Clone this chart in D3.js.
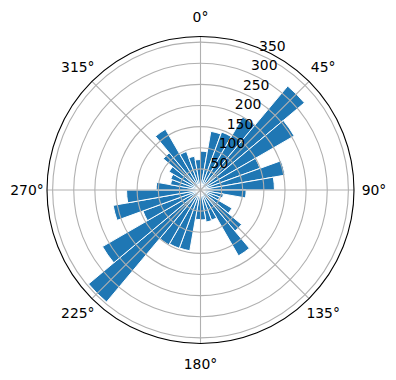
<!DOCTYPE html>
<html>
<head>
<meta charset="utf-8">
<script src="https://cdn.jsdelivr.net/npm/d3@7"></script>
<style>
  body { margin: 0; background: #fff; }
  text { font-family: "DejaVu Sans", sans-serif; font-size: 13.9px; fill: #000; }
</style>
</head>
<body>
<div id="chart"></div>
<script>
// polar bar chart (wind rose style)

// data
var directions = [5, 15, 25, 35, 45, 55, 65, 75, 85, 95, 105, 115,
                  125, 135, 145, 155, 165, 175, 185, 195, 205, 215, 225, 235,
                  245, 255, 265, 275, 285, 295, 305, 315, 325, 335, 345, 355];
var counts = [92, 141, 146, 200, 321, 256, 150, 203, 175, 108, 55, 48,
              86, 127, 180, 76, 77, 71, 70, 146, 147, 150, 346, 268,
              145, 210, 175, 105, 72, 75, 86, 115, 166, 97, 81, 72];
var binWidth = 10;
var angleTicks = [0, 45, 90, 135, 180, 225, 270, 315];
var radialTicks = [50, 100, 150, 200, 250, 300, 350];

// layout
var w = 396;
var h = 380;
var cx = 200.5;
var cy = 190;
var R = 153.5;
var color = '#1f77b4';
var gridColor = '#b0b0b0';

var theta = d3.scaleLinear().domain([0, 360]).range([0, 2 * Math.PI]);
var r = d3.scaleLinear().domain([0, d3.max(counts) * 1.05]).range([0, R]);

var svg = d3.select('#chart')
    .append('svg')
    .attr('width', w)
    .attr('height', h);

var g = svg.append('g').attr('transform', 'translate(' + cx + ',' + cy + ')');

// bars
var arc = d3.arc()
    .innerRadius(0)
    .outerRadius(function(d) { return r(d.v); })
    .startAngle(function(d) { return theta(d.a - binWidth / 2); })
    .endAngle(function(d) { return theta(d.a + binWidth / 2); });

g.selectAll('path.bar')
    .data(directions.map(function(a, i) { return {a: a, v: counts[i]}; }))
    .enter()
    .append('path')
    .attr('class', 'bar')
    .attr('d', arc)
    .attr('fill', color)
    .attr('stroke', '#fff')
    .attr('stroke-width', 1);

// grid circles
g.selectAll('circle.grid')
    .data(radialTicks)
    .enter()
    .append('circle')
    .attr('r', function(d) { return r(d); })
    .attr('fill', 'none')
    .attr('stroke', gridColor)
    .attr('stroke-width', 1.1);

// spokes
g.selectAll('line.spoke')
    .data(angleTicks)
    .enter()
    .append('line')
    .attr('x1', 0).attr('y1', 0)
    .attr('x2', function(d) { return R * Math.sin(theta(d)); })
    .attr('y2', function(d) { return -R * Math.cos(theta(d)); })
    .attr('stroke', gridColor)
    .attr('stroke-width', 1.1);

// outer frame
g.append('circle')
    .attr('r', R)
    .attr('fill', 'none')
    .attr('stroke', '#000')
    .attr('stroke-width', 1.1);

// angle labels
g.selectAll('text.theta')
    .data(angleTicks)
    .enter()
    .append('text')
    .attr('x', function(d) { return (R + 20) * Math.sin(theta(d)); })
    .attr('y', function(d) { return -(R + 20) * Math.cos(theta(d)); })
    .attr('text-anchor', 'middle')
    .attr('dominant-baseline', 'central')
    .text(function(d) { return d + '°'; });

// radial labels at 22.5 degrees
var la = theta(22.5);
g.selectAll('text.rlabel')
    .data(radialTicks)
    .enter()
    .append('text')
    .attr('x', function(d) { return r(d) * Math.sin(la) + 2; })
    .attr('y', function(d) { return -r(d) * Math.cos(la) - 2.5; })
    .attr('text-anchor', 'start')
    .text(function(d) { return d; });
</script>
</body>
</html>
